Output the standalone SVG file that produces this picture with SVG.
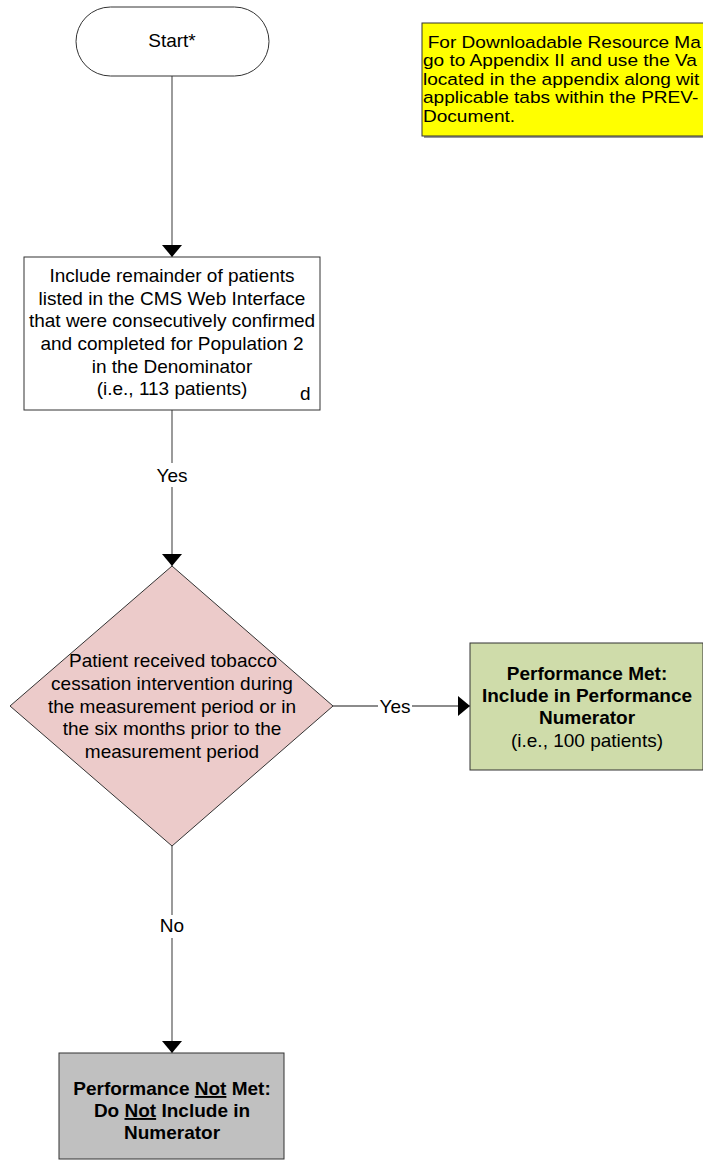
<svg xmlns="http://www.w3.org/2000/svg" width="703" height="1167" viewBox="0 0 703 1167">
<style>
text{font-family:"Liberation Sans",Arial,sans-serif;font-size:19px;fill:#000}
.c{text-anchor:middle}
.b{font-weight:bold}
.n{font-size:16.3px}
.box{stroke:#333;stroke-width:1}
.con{stroke:#666;stroke-width:1.3;fill:none}
</style>
<defs>
<marker id="ah" viewBox="0 0 12 20" refX="12" refY="10" markerWidth="12" markerHeight="20" markerUnits="userSpaceOnUse" orient="auto">
<path d="M0,0 L12,10 L0,20 Z" fill="#000"/>
</marker>
</defs>
<rect width="703" height="1167" fill="#fff"/>
<g id="connectors">
<path class="con" d="M172,76 V257" marker-end="url(#ah)"/>
<path class="con" d="M172,410 V463 M172,487 V566" marker-end="url(#ah)"/>
<path class="con" d="M333,706 H378 M412,706 H470" marker-end="url(#ah)"/>
<path class="con" d="M172,846 V915 M172,938 V1053" marker-end="url(#ah)"/>
<text class="c" x="172" y="482">Yes</text>
<text class="c" x="395" y="713">Yes</text>
<text class="c" x="172" y="932">No</text>
</g>
<g id="start">
<rect class="box" x="76" y="7" width="193" height="69" rx="34.5" fill="#fff"/>
<text class="c" x="172" y="47">Start*</text>
</g>
<g id="note">
<rect x="424" y="25" width="290" height="113" fill="#999"/>
<rect class="box" x="422" y="23" width="290" height="113" fill="#ffff00"/>
<g transform="translate(423,0) scale(1.17,1)">
<text class="n" x="4" y="48"> For Downloadable Resource Ma</text>
<text class="n" x="0" y="66.5">go to Appendix II and use the Va</text>
<text class="n" x="0" y="85">located in the appendix along wit</text>
<text class="n" x="0" y="103.5">applicable tabs within the PREV-</text>
<text class="n" x="0" y="122">Document.</text>
</g>
</g>
<g id="include">
<rect class="box" x="24" y="257" width="296" height="153" fill="#fff"/>
<text class="c" x="172" y="282">Include remainder of patients</text>
<text class="c" x="172" y="304.5">listed in the CMS Web Interface</text>
<text class="c" x="172" y="327">that were consecutively confirmed</text>
<text class="c" x="172" y="350">and completed for Population 2</text>
<text class="c" x="172" y="372.5">in the Denominator</text>
<text class="c" x="172" y="395">(i.e., 113 patients)</text>
<text x="300" y="400">d</text>
</g>
<g id="decision">
<path class="box" d="M172,566 L333,706 L172,846 L10,706 Z" fill="#eccbca"/>
<text class="c" x="173" y="667">Patient received tobacco</text>
<text class="c" x="172" y="690">cessation intervention during</text>
<text class="c" x="172" y="712.5">the measurement period or in</text>
<text class="c" x="172" y="735">the six months prior to the</text>
<text class="c" x="172" y="757.5">measurement period</text>
</g>
<g id="met">
<rect class="box" x="470" y="643" width="233" height="127" fill="#cfdcaa"/>
<text class="c b" x="587" y="680">Performance Met:</text>
<text class="c b" x="587" y="702">Include in Performance</text>
<text class="c b" x="587" y="724">Numerator</text>
<text class="c" x="587" y="747">(i.e., 100 patients)</text>
</g>
<g id="notmet">
<rect class="box" x="59" y="1053" width="225" height="106" fill="#c0c0c0"/>
<text class="c b" x="172" y="1095">Performance <tspan text-decoration="underline">Not</tspan> Met:</text>
<text class="c b" x="172" y="1117">Do <tspan text-decoration="underline">Not</tspan> Include in</text>
<text class="c b" x="172" y="1139">Numerator</text>
</g>
</svg>
